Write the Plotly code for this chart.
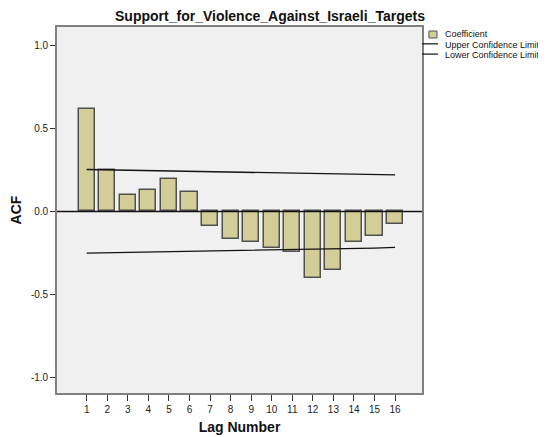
import plotly.graph_objects as go

lags = list(range(1, 17))
coefficient = [0.62, 0.25, 0.10, 0.13, 0.197, 0.12, -0.09, -0.165, -0.185, -0.221,
               -0.241, -0.40, -0.35, -0.181, -0.147, -0.074]
upper_limit = [0.253, 0.251, 0.249, 0.247, 0.245, 0.243, 0.241, 0.239, 0.237, 0.235,
               0.233, 0.231, 0.229, 0.226, 0.223, 0.220]
lower_limit = [-0.251, -0.249, -0.247, -0.245, -0.243, -0.241, -0.239, -0.237, -0.235,
               -0.233, -0.231, -0.229, -0.227, -0.224, -0.220, -0.216]
y_ticks = [-1.0, -0.5, 0.0, 0.5, 1.0]
y_tick_labels = ["-1.0", "-0.5", "0.0", "0.5", "1.0"]

bar_fill = "#d3ce97"
bar_edge = "#505050"
font = "Liberation Sans, Arial, sans-serif"

# the page body has an 8px default margin, so the figure is 8px smaller
W, H = 538, 429

fig = go.Figure()
fig.add_trace(go.Bar(x=lags, y=coefficient, width=0.78, name="Coefficient",
                     marker=dict(color=bar_fill, line=dict(color=bar_edge, width=1.5)),
                     showlegend=False))
fig.add_trace(go.Scatter(x=lags, y=upper_limit, mode="lines", name="Upper Confidence Limit",
                         line=dict(color="#111111", width=1.3), showlegend=False))
fig.add_trace(go.Scatter(x=lags, y=lower_limit, mode="lines", name="Lower Confidence Limit",
                         line=dict(color="#111111", width=1.3), showlegend=False))

# zero reference line across the whole plot
fig.add_shape(type="line", xref="x domain", yref="y", x0=0, x1=1, y0=0, y1=0,
              line=dict(color="#111111", width=1.3), layer="above")

# manual legend (SPSS style)
fig.add_shape(type="rect", xref="paper", yref="paper", x0=1.019, x1=1.041, y0=0.970, y1=0.989,
              line=dict(color=bar_edge, width=1), fillcolor=bar_fill)
fig.add_shape(type="line", xref="paper", yref="paper", x0=1.0, x1=1.044, y0=0.954, y1=0.954,
              line=dict(color="#111111", width=1.2))
fig.add_shape(type="line", xref="paper", yref="paper", x0=1.0, x1=1.044, y0=0.926, y1=0.926,
              line=dict(color="#111111", width=1.2))
for txt, yy in [("Coefficient", 0.980), ("Upper Confidence Limit", 0.951),
                ("Lower Confidence Limit", 0.923)]:
    fig.add_annotation(text=txt, xref="paper", yref="paper", x=1.058, y=yy,
                       xanchor="left", yanchor="middle", showarrow=False,
                       font=dict(family=font, size=9, color="#111111"))

fig.update_layout(
    width=W, height=H,
    margin=dict(l=49, r=124, t=19, b=44, autoexpand=False),
    paper_bgcolor="white", plot_bgcolor="#f0f0f0",
    font=dict(family=font, size=10, color="#222222"),
    title=dict(text="<b>Support_for_Violence_Against_Israeli_Targets</b>",
               x=0.487, xanchor="center", y=0.982, yanchor="middle",
               xref="container", yref="container", automargin=False,
               font=dict(family=font, size=14, color="#111111")),
    bargap=0,
)
fig.update_xaxes(range=[-0.445, 17.31], tickmode="array", tickvals=lags,
                 ticktext=[str(v) for v in lags], automargin=False,
                 ticks="outside", ticklen=6, tickcolor="#333333", tickwidth=1.3,
                 showline=True, linecolor="#808080", linewidth=1.6, mirror=True,
                 showgrid=False, zeroline=False,
                 title=dict(text="<b>Lag Number</b>", standoff=8,
                            font=dict(family=font, size=14, color="#111111")))
fig.update_yaxes(range=[-1.093, 1.111], tickmode="array", tickvals=y_ticks,
                 ticktext=y_tick_labels, automargin=False,
                 ticks="outside", ticklen=5, tickcolor="#333333", tickwidth=1.3,
                 showline=True, linecolor="#808080", linewidth=1.6, mirror=True,
                 showgrid=False, zeroline=False,
                 title=dict(text="<b>ACF</b>", standoff=6,
                            font=dict(family=font, size=14, color="#111111")))

fig.write_html("out.html")
